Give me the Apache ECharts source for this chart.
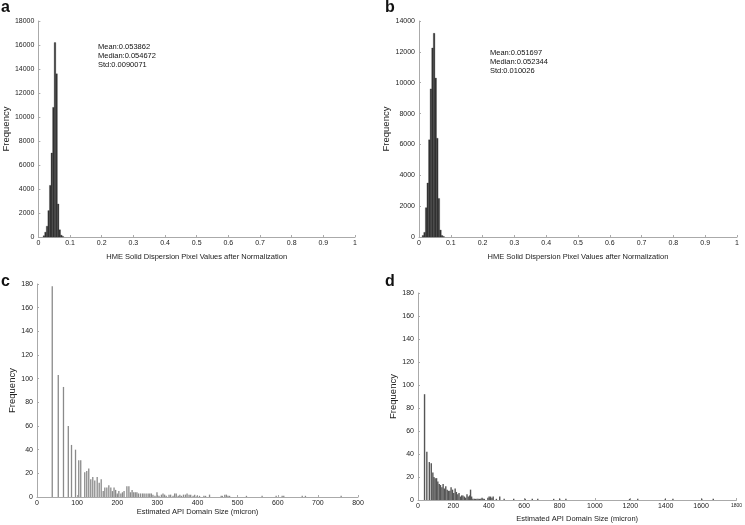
<!DOCTYPE html>
<html>
<head>
<meta charset="utf-8">
<script src="https://cdn.jsdelivr.net/npm/echarts@6/dist/echarts.min.js"></script>
<style>html,body{margin:0;padding:0;background:#fff}#c{width:745px;height:525px}</style>
</head>
<body>
<div id="c"></div>
<script>
// Panel a: histogram bins (start, end) and counts
var aBinStart = [0.015,0.020,0.025,0.030,0.035,0.040,0.045,0.050,0.055,0.060,0.065,0.070,0.075];
var aBinEnd   = [0.020,0.025,0.030,0.035,0.040,0.045,0.050,0.055,0.060,0.065,0.070,0.075,0.080];
var aCounts   = [100,400,900,2200,4300,7000,10800,16200,13600,2750,600,150,50];
// Panel b
var bBinStart = [0.010,0.015,0.020,0.025,0.030,0.035,0.040,0.045,0.050,0.055,0.060,0.065,0.070,0.075];
var bBinEnd   = [0.015,0.020,0.025,0.030,0.035,0.040,0.045,0.050,0.055,0.060,0.065,0.070,0.075,0.080];
var bCounts   = [100,300,1900,3500,6300,9600,12250,13200,10300,6400,2500,450,100,30];
// Panel c: domain size (micron) and frequency
var cSize = [38,53,66,78,86,96,104,109,119,124,129,134,139,144,150,155,160,165,169,174,179,184,188,192,196,200,204,209,213,217,224,229,233,237,241,245,249,253,258,263,267,272,277,281,285,289,294,299,304,310,314,318,322,329,333,339,343,347,352,356,360,365,370,374,379,383,389,393,399,405,416,420,430,459,462,468,472,476,480,522,561,596,611,615,661,669,758];
var cFreq = [178,103,93,60,44,40,31,31,21,22,24,15,17,14,17,12,15,5,8,8,10,8,5,8,6,3,5,3,4,5,9,9,4,6,4,4,4,3,3,3,3,3,3,3,3,2,1,4,1,2,3,2,1,2,2,1,3,3,1,2,1,2,2,3,2,2,1,2,1,1,1,1,2,1,1,2,2,1,1,1,1,1,1,1,1,1,1];
// Panel d
var dSize = [37,50,64,75,84,90,97,105,112,120,127,135,142,150,157,165,172,180,187,195,202,210,217,225,232,240,247,254,262,269,277,284,292,297,303,310,318,325,333,340,348,355,362,368,375,395,402,410,418,425,443,462,487,541,606,646,677,767,801,836,1196,1242,1398,1441,1604,1669];
var dFreq = [92,42,33,32,24,20,19,19,16,14,13,11,14,10,12,9,8,8,11,9,6,10,7,5,6,3,4,4,3,2,5,3,4,9,3,1,1,1,1,1,1,1,2,1,1,2,3,3,2,3,1,3,1,1,1,1,1,1,1,1,1,1,1,1,1,1];
// Axis ranges
var aYMax = 18000, bYMax = 14000, cdYMax = 180;
var statsA = ['Mean:0.053862','Median:0.054672','Std:0.0090071'];
var statsB = ['Mean:0.051697','Median:0.052344','Std:0.010026'];
var xNameAB = 'HME Solid Dispersion Pixel Values after Normalization';
var xNameCD = 'Estimated API Domain Size (micron)';
var yName = 'Frequency';

var FONT = 'Liberation Sans, Arial, sans-serif';
var chart = echarts.init(document.getElementById('c'), null, {renderer:'canvas'});

function zip3(a,b,c){return a.map(function(v,i){return [v,b[i],c[i]];});}
function zip2(a,b){return a.map(function(v,i){return [v,b[i]];});}

function histRender(color){
  return function(params, api){
    var p0 = api.coord([api.value(0), api.value(2)]);
    var p1 = api.coord([api.value(1), 0]);
    return {type:'rect', shape:{x:p0[0], y:p0[1], width:p1[0]-p0[0], height:p1[1]-p0[1]},
      style:{fill:color, stroke:color, lineWidth:0.3}};
  };
}
function thinRender(color, w){
  return function(params, api){
    var p0 = api.coord([api.value(0), api.value(1)]);
    var p1 = api.coord([api.value(0), 0]);
    return {type:'rect', shape:{x:p0[0]-w/2, y:p0[1], width:w, height:p1[1]-p0[1]},
      style:{fill:color}};
  };
}
function plain(v){ return String(v); }

function xAxis(idx, max, interval, name, gap, fmt){
  return {gridIndex:idx, type:'value', min:0, max:max, interval:interval,
    name:name, nameLocation:'middle', nameGap:gap,
    nameTextStyle:{fontFamily:FONT, fontSize:7.5, color:'#222'},
    axisLine:{show:true, lineStyle:{color:'#aaa', width:1}},
    axisTick:{show:true, inside:true, length:2, lineStyle:{color:'#aaa'}},
    axisLabel:{fontFamily:FONT, fontSize:7, color:'#222', margin:3, formatter:fmt||plain,
      rich:{s:{fontFamily:FONT, fontSize:5, color:'#222'}}},
    splitLine:{show:false}};
}
function yAxis(idx, max, interval, gap){
  return {gridIndex:idx, type:'value', min:0, max:max, interval:interval,
    name:yName, nameLocation:'middle', nameGap:gap,
    nameTextStyle:{fontFamily:FONT, fontSize:9.5, color:'#222'},
    axisLine:{show:true, lineStyle:{color:'#aaa', width:1}},
    axisTick:{show:true, inside:true, length:2, lineStyle:{color:'#aaa'}},
    axisLabel:{fontFamily:FONT, fontSize:7, color:'#222', margin:4, formatter:plain},
    splitLine:{show:false}};
}

function statsText(lines, x, y){
  return lines.map(function(t,i){
    return {type:'text', left:x, top:y+i*8.8, style:{text:t, font:'7.5px '+FONT, fill:'#111'}};
  });
}
function letter(t, x, y){
  return {type:'text', left:x, top:y, style:{text:t, font:'bold 16px '+FONT, fill:'#111'}};
}

chart.setOption({
  animation:false,
  backgroundColor:'#fff',
  grid:[
    {left:37, top:21, width:318, height:216},
    {left:419, top:21, width:318, height:216},
    {left:37, top:284, width:321, height:213},
    {left:418, top:293, width:321, height:207}
  ],
  xAxis:[
    xAxis(0,1,0.1,xNameAB,16),
    xAxis(1,1,0.1,xNameAB,16),
    xAxis(2,800,100,xNameCD,10),
    xAxis(3,1800,200,xNameCD,15, function(v){ return v===1800 ? '{s|1800}' : String(v); })
  ],
  yAxis:[
    yAxis(0,aYMax,2000,27),
    yAxis(1,bYMax,2000,24),
    yAxis(2,cdYMax,20,20),
    yAxis(3,cdYMax,20,18)
  ],
  series:[
    {type:'custom', xAxisIndex:0, yAxisIndex:0, data:zip3(aBinStart,aBinEnd,aCounts), encode:{x:[0,1], y:2}, renderItem:histRender('#333')},
    {type:'custom', xAxisIndex:1, yAxisIndex:1, data:zip3(bBinStart,bBinEnd,bCounts), encode:{x:[0,1], y:2}, renderItem:histRender('#333')},
    {type:'custom', xAxisIndex:2, yAxisIndex:2, data:zip2(cSize,cFreq), encode:{x:0, y:1}, renderItem:thinRender('#8a8a8a', 1.3)},
    {type:'custom', xAxisIndex:3, yAxisIndex:3, data:zip2(dSize,dFreq), encode:{x:0, y:1}, renderItem:thinRender('#555', 1.4)}
  ],
  graphic:[].concat(
    statsText(statsA, 98, 43),
    statsText(statsB, 490, 49),
    [letter('a',1,0), letter('b',385,0), letter('c',1,274), letter('d',385,274)]
  )
});
</script>
</body>
</html>
